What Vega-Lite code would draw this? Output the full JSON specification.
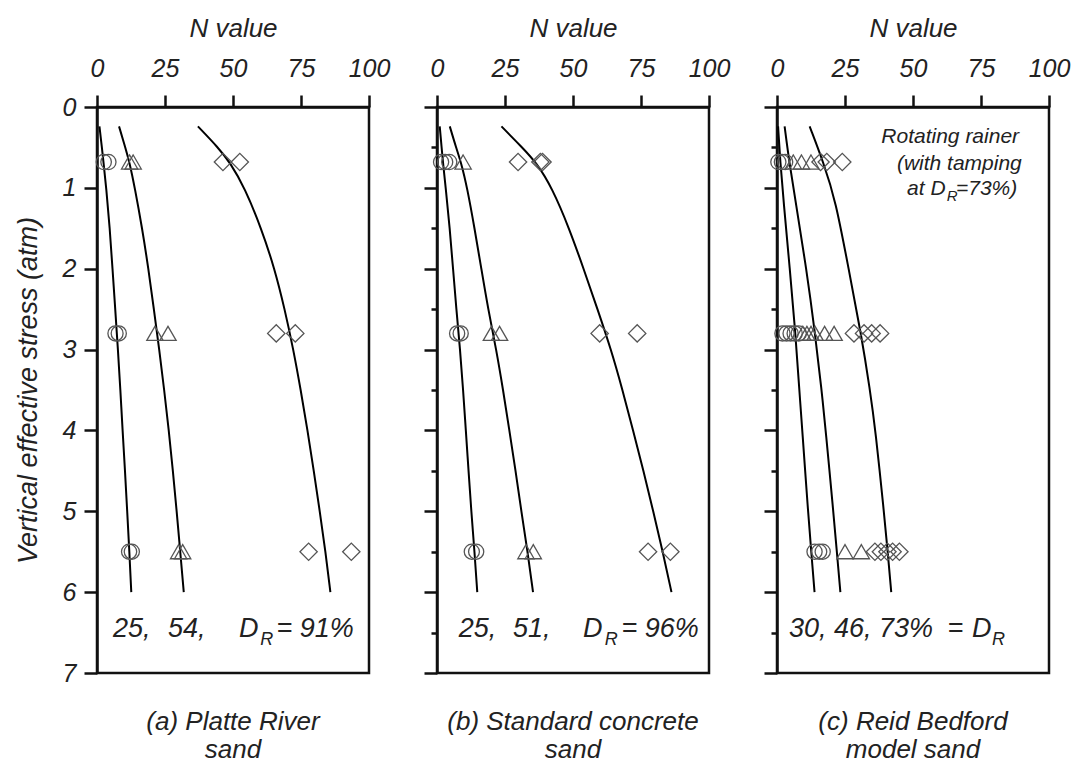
{
  "$schema": "https://vega.github.io/schema/vega-lite/v6.json",
  "background": "white",
  "padding": {"left": 12, "top": 13, "right": 5, "bottom": 0},
  "bounds": "flush",
  "spacing": 68,
  "config": {
    "font": "Liberation Sans",
    "view": {"stroke": "#111", "strokeWidth": 2.5},
    "axis": {
      "domainColor": "#111", "domainWidth": 2.5,
      "tickColor": "#111", "tickWidth": 2.5,
      "labelFont": "Liberation Sans", "labelFontStyle": "italic", "labelFontSize": 25, "labelColor": "#222",
      "labelFlush": false, "labelOverlap": false,
      "titleFont": "Liberation Sans", "titleFontStyle": "italic", "titleFontWeight": "normal", "titleFontSize": 26, "titleColor": "#222",
      "grid": false
    }
  },
  "datasets": {
    "points": [
      {"panel": "a", "sym": "circle", "stress": 0.68, "N": 2.5},
      {"panel": "a", "sym": "circle", "stress": 0.68, "N": 4.2},
      {"panel": "a", "sym": "circle", "stress": 2.8, "N": 6.8},
      {"panel": "a", "sym": "circle", "stress": 2.8, "N": 8.0},
      {"panel": "a", "sym": "circle", "stress": 5.5, "N": 11.8},
      {"panel": "a", "sym": "circle", "stress": 5.5, "N": 12.8},
      {"panel": "a", "sym": "triangle", "stress": 0.68, "N": 12.0},
      {"panel": "a", "sym": "triangle", "stress": 0.68, "N": 13.3},
      {"panel": "a", "sym": "triangle", "stress": 2.8, "N": 21.3},
      {"panel": "a", "sym": "triangle", "stress": 2.8, "N": 26.1},
      {"panel": "a", "sym": "triangle", "stress": 5.5, "N": 30.0},
      {"panel": "a", "sym": "triangle", "stress": 5.5, "N": 31.5},
      {"panel": "a", "sym": "diamond", "stress": 0.68, "N": 46.3},
      {"panel": "a", "sym": "diamond", "stress": 0.68, "N": 52.5},
      {"panel": "a", "sym": "diamond", "stress": 2.8, "N": 65.9},
      {"panel": "a", "sym": "diamond", "stress": 2.8, "N": 72.9},
      {"panel": "a", "sym": "diamond", "stress": 5.5, "N": 77.8},
      {"panel": "a", "sym": "diamond", "stress": 5.5, "N": 93.5},
      {"panel": "b", "sym": "circle", "stress": 0.68, "N": 1.5},
      {"panel": "b", "sym": "circle", "stress": 0.68, "N": 3.0},
      {"panel": "b", "sym": "circle", "stress": 0.68, "N": 4.5},
      {"panel": "b", "sym": "circle", "stress": 2.8, "N": 7.4},
      {"panel": "b", "sym": "circle", "stress": 2.8, "N": 8.7},
      {"panel": "b", "sym": "circle", "stress": 5.5, "N": 12.8},
      {"panel": "b", "sym": "circle", "stress": 5.5, "N": 14.4},
      {"panel": "b", "sym": "triangle", "stress": 0.68, "N": 9.6},
      {"panel": "b", "sym": "triangle", "stress": 2.8, "N": 20.0},
      {"panel": "b", "sym": "triangle", "stress": 2.8, "N": 23.0},
      {"panel": "b", "sym": "triangle", "stress": 5.5, "N": 32.7},
      {"panel": "b", "sym": "triangle", "stress": 5.5, "N": 35.4},
      {"panel": "b", "sym": "diamond", "stress": 0.68, "N": 29.8},
      {"panel": "b", "sym": "diamond", "stress": 0.68, "N": 38.0},
      {"panel": "b", "sym": "diamond", "stress": 0.68, "N": 38.8},
      {"panel": "b", "sym": "diamond", "stress": 2.8, "N": 59.8},
      {"panel": "b", "sym": "diamond", "stress": 2.8, "N": 73.6},
      {"panel": "b", "sym": "diamond", "stress": 5.5, "N": 77.6},
      {"panel": "b", "sym": "diamond", "stress": 5.5, "N": 85.8},
      {"panel": "c", "sym": "circle", "stress": 0.68, "N": 0.5},
      {"panel": "c", "sym": "circle", "stress": 0.68, "N": 1.8},
      {"panel": "c", "sym": "circle", "stress": 0.68, "N": 3.0},
      {"panel": "c", "sym": "circle", "stress": 2.8, "N": 2.0},
      {"panel": "c", "sym": "circle", "stress": 2.8, "N": 3.5},
      {"panel": "c", "sym": "circle", "stress": 2.8, "N": 5.0},
      {"panel": "c", "sym": "circle", "stress": 2.8, "N": 6.5},
      {"panel": "c", "sym": "circle", "stress": 2.8, "N": 8.0},
      {"panel": "c", "sym": "circle", "stress": 5.5, "N": 13.8},
      {"panel": "c", "sym": "circle", "stress": 5.5, "N": 15.5},
      {"panel": "c", "sym": "circle", "stress": 5.5, "N": 16.8},
      {"panel": "c", "sym": "triangle", "stress": 0.68, "N": 6.0},
      {"panel": "c", "sym": "triangle", "stress": 0.68, "N": 9.0},
      {"panel": "c", "sym": "triangle", "stress": 0.68, "N": 12.5},
      {"panel": "c", "sym": "triangle", "stress": 2.8, "N": 9.5},
      {"panel": "c", "sym": "triangle", "stress": 2.8, "N": 11.0},
      {"panel": "c", "sym": "triangle", "stress": 2.8, "N": 12.5},
      {"panel": "c", "sym": "triangle", "stress": 2.8, "N": 14.0},
      {"panel": "c", "sym": "triangle", "stress": 2.8, "N": 17.5},
      {"panel": "c", "sym": "triangle", "stress": 2.8, "N": 21.0},
      {"panel": "c", "sym": "triangle", "stress": 5.5, "N": 25.0},
      {"panel": "c", "sym": "triangle", "stress": 5.5, "N": 31.0},
      {"panel": "c", "sym": "diamond", "stress": 0.68, "N": 16.0},
      {"panel": "c", "sym": "diamond", "stress": 0.68, "N": 18.3},
      {"panel": "c", "sym": "diamond", "stress": 0.68, "N": 24.0},
      {"panel": "c", "sym": "diamond", "stress": 2.8, "N": 28.3},
      {"panel": "c", "sym": "diamond", "stress": 2.8, "N": 32.0},
      {"panel": "c", "sym": "diamond", "stress": 2.8, "N": 34.8},
      {"panel": "c", "sym": "diamond", "stress": 2.8, "N": 37.9},
      {"panel": "c", "sym": "diamond", "stress": 5.5, "N": 36.0},
      {"panel": "c", "sym": "diamond", "stress": 5.5, "N": 38.2},
      {"panel": "c", "sym": "diamond", "stress": 5.5, "N": 40.6},
      {"panel": "c", "sym": "diamond", "stress": 5.5, "N": 42.5},
      {"panel": "c", "sym": "diamond", "stress": 5.5, "N": 45.0}
    ],
    "curves": [
      {"panel": "a", "sym": "circle", "stress": 0.24, "N": 0.9},
      {"panel": "a", "sym": "circle", "stress": 0.5, "N": 1.8},
      {"panel": "a", "sym": "circle", "stress": 0.69, "N": 2.4},
      {"panel": "a", "sym": "circle", "stress": 1.0, "N": 3.4},
      {"panel": "a", "sym": "circle", "stress": 1.5, "N": 4.7},
      {"panel": "a", "sym": "circle", "stress": 2.0, "N": 5.7},
      {"panel": "a", "sym": "circle", "stress": 2.5, "N": 6.7},
      {"panel": "a", "sym": "circle", "stress": 3.0, "N": 7.7},
      {"panel": "a", "sym": "circle", "stress": 3.5, "N": 8.6},
      {"panel": "a", "sym": "circle", "stress": 4.0, "N": 9.4},
      {"panel": "a", "sym": "circle", "stress": 4.5, "N": 10.3},
      {"panel": "a", "sym": "circle", "stress": 5.0, "N": 11.1},
      {"panel": "a", "sym": "circle", "stress": 5.5, "N": 11.9},
      {"panel": "a", "sym": "circle", "stress": 6.0, "N": 12.6},
      {"panel": "a", "sym": "triangle", "stress": 0.24, "N": 8.1},
      {"panel": "a", "sym": "triangle", "stress": 0.5, "N": 10.4},
      {"panel": "a", "sym": "triangle", "stress": 0.69, "N": 12.0},
      {"panel": "a", "sym": "triangle", "stress": 1.0, "N": 13.9},
      {"panel": "a", "sym": "triangle", "stress": 1.5, "N": 16.6},
      {"panel": "a", "sym": "triangle", "stress": 2.0, "N": 18.9},
      {"panel": "a", "sym": "triangle", "stress": 2.5, "N": 20.9},
      {"panel": "a", "sym": "triangle", "stress": 3.0, "N": 22.9},
      {"panel": "a", "sym": "triangle", "stress": 3.5, "N": 24.7},
      {"panel": "a", "sym": "triangle", "stress": 4.0, "N": 26.4},
      {"panel": "a", "sym": "triangle", "stress": 4.5, "N": 27.9},
      {"panel": "a", "sym": "triangle", "stress": 5.0, "N": 29.3},
      {"panel": "a", "sym": "triangle", "stress": 5.5, "N": 30.6},
      {"panel": "a", "sym": "triangle", "stress": 6.0, "N": 31.9},
      {"panel": "a", "sym": "diamond", "stress": 0.24, "N": 37.1},
      {"panel": "a", "sym": "diamond", "stress": 0.5, "N": 44.5},
      {"panel": "a", "sym": "diamond", "stress": 0.69, "N": 49.0},
      {"panel": "a", "sym": "diamond", "stress": 1.0, "N": 54.3},
      {"panel": "a", "sym": "diamond", "stress": 1.5, "N": 60.4},
      {"panel": "a", "sym": "diamond", "stress": 2.0, "N": 65.3},
      {"panel": "a", "sym": "diamond", "stress": 2.5, "N": 69.0},
      {"panel": "a", "sym": "diamond", "stress": 3.0, "N": 72.2},
      {"panel": "a", "sym": "diamond", "stress": 3.5, "N": 74.9},
      {"panel": "a", "sym": "diamond", "stress": 4.0, "N": 77.4},
      {"panel": "a", "sym": "diamond", "stress": 4.5, "N": 79.7},
      {"panel": "a", "sym": "diamond", "stress": 5.0, "N": 81.9},
      {"panel": "a", "sym": "diamond", "stress": 5.5, "N": 84.0},
      {"panel": "a", "sym": "diamond", "stress": 6.0, "N": 85.8},
      {"panel": "b", "sym": "circle", "stress": 0.24, "N": 1.0},
      {"panel": "b", "sym": "circle", "stress": 0.5, "N": 1.7},
      {"panel": "b", "sym": "circle", "stress": 0.69, "N": 2.2},
      {"panel": "b", "sym": "circle", "stress": 1.0, "N": 3.2},
      {"panel": "b", "sym": "circle", "stress": 1.5, "N": 4.7},
      {"panel": "b", "sym": "circle", "stress": 2.0, "N": 5.9},
      {"panel": "b", "sym": "circle", "stress": 2.5, "N": 7.1},
      {"panel": "b", "sym": "circle", "stress": 3.0, "N": 8.5},
      {"panel": "b", "sym": "circle", "stress": 3.5, "N": 9.6},
      {"panel": "b", "sym": "circle", "stress": 4.0, "N": 10.6},
      {"panel": "b", "sym": "circle", "stress": 4.5, "N": 11.6},
      {"panel": "b", "sym": "circle", "stress": 5.0, "N": 12.6},
      {"panel": "b", "sym": "circle", "stress": 5.5, "N": 13.8},
      {"panel": "b", "sym": "circle", "stress": 6.0, "N": 14.8},
      {"panel": "b", "sym": "triangle", "stress": 0.24, "N": 4.7},
      {"panel": "b", "sym": "triangle", "stress": 0.5, "N": 7.0},
      {"panel": "b", "sym": "triangle", "stress": 0.69, "N": 8.9},
      {"panel": "b", "sym": "triangle", "stress": 1.0, "N": 11.1},
      {"panel": "b", "sym": "triangle", "stress": 1.5, "N": 13.8},
      {"panel": "b", "sym": "triangle", "stress": 2.0, "N": 16.3},
      {"panel": "b", "sym": "triangle", "stress": 2.5, "N": 18.8},
      {"panel": "b", "sym": "triangle", "stress": 3.0, "N": 21.8},
      {"panel": "b", "sym": "triangle", "stress": 3.5, "N": 24.3},
      {"panel": "b", "sym": "triangle", "stress": 4.0, "N": 26.6},
      {"panel": "b", "sym": "triangle", "stress": 4.5, "N": 28.9},
      {"panel": "b", "sym": "triangle", "stress": 5.0, "N": 31.0},
      {"panel": "b", "sym": "triangle", "stress": 5.5, "N": 33.3},
      {"panel": "b", "sym": "triangle", "stress": 6.0, "N": 35.3},
      {"panel": "b", "sym": "diamond", "stress": 0.24, "N": 23.7},
      {"panel": "b", "sym": "diamond", "stress": 0.5, "N": 31.3},
      {"panel": "b", "sym": "diamond", "stress": 0.69, "N": 36.6},
      {"panel": "b", "sym": "diamond", "stress": 1.0, "N": 42.3},
      {"panel": "b", "sym": "diamond", "stress": 1.5, "N": 48.6},
      {"panel": "b", "sym": "diamond", "stress": 2.0, "N": 53.9},
      {"panel": "b", "sym": "diamond", "stress": 2.5, "N": 59.0},
      {"panel": "b", "sym": "diamond", "stress": 3.0, "N": 64.0},
      {"panel": "b", "sym": "diamond", "stress": 3.5, "N": 68.2},
      {"panel": "b", "sym": "diamond", "stress": 4.0, "N": 72.1},
      {"panel": "b", "sym": "diamond", "stress": 4.5, "N": 75.9},
      {"panel": "b", "sym": "diamond", "stress": 5.0, "N": 79.5},
      {"panel": "b", "sym": "diamond", "stress": 5.5, "N": 83.0},
      {"panel": "b", "sym": "diamond", "stress": 6.0, "N": 86.2},
      {"panel": "c", "sym": "circle", "stress": 0.24, "N": 0.4},
      {"panel": "c", "sym": "circle", "stress": 0.68, "N": 1.2},
      {"panel": "c", "sym": "circle", "stress": 1.16, "N": 2.4},
      {"panel": "c", "sym": "circle", "stress": 2.0, "N": 4.7},
      {"panel": "c", "sym": "circle", "stress": 2.8, "N": 6.8},
      {"panel": "c", "sym": "circle", "stress": 3.5, "N": 8.2},
      {"panel": "c", "sym": "circle", "stress": 4.0, "N": 9.3},
      {"panel": "c", "sym": "circle", "stress": 5.0, "N": 11.4},
      {"panel": "c", "sym": "circle", "stress": 5.5, "N": 12.6},
      {"panel": "c", "sym": "circle", "stress": 6.0, "N": 13.8},
      {"panel": "c", "sym": "triangle", "stress": 0.24, "N": 2.8},
      {"panel": "c", "sym": "triangle", "stress": 0.68, "N": 4.5},
      {"panel": "c", "sym": "triangle", "stress": 1.16, "N": 6.8},
      {"panel": "c", "sym": "triangle", "stress": 2.0, "N": 10.8},
      {"panel": "c", "sym": "triangle", "stress": 2.8, "N": 14.0},
      {"panel": "c", "sym": "triangle", "stress": 3.5, "N": 16.4},
      {"panel": "c", "sym": "triangle", "stress": 4.0, "N": 17.9},
      {"panel": "c", "sym": "triangle", "stress": 5.0, "N": 20.7},
      {"panel": "c", "sym": "triangle", "stress": 5.5, "N": 22.0},
      {"panel": "c", "sym": "triangle", "stress": 6.0, "N": 23.3},
      {"panel": "c", "sym": "diamond", "stress": 0.24, "N": 12.0},
      {"panel": "c", "sym": "diamond", "stress": 0.68, "N": 17.0},
      {"panel": "c", "sym": "diamond", "stress": 1.16, "N": 21.6},
      {"panel": "c", "sym": "diamond", "stress": 2.0, "N": 26.3},
      {"panel": "c", "sym": "diamond", "stress": 2.8, "N": 30.9},
      {"panel": "c", "sym": "diamond", "stress": 3.5, "N": 34.2},
      {"panel": "c", "sym": "diamond", "stress": 4.0, "N": 36.2},
      {"panel": "c", "sym": "diamond", "stress": 5.0, "N": 39.3},
      {"panel": "c", "sym": "diamond", "stress": 5.5, "N": 40.7},
      {"panel": "c", "sym": "diamond", "stress": 6.0, "N": 42.0}
    ],
    "notes": [
      {"panel": "a", "kind": "main", "N": 5.9, "stress": 6.46, "text": "25,"},
      {"panel": "a", "kind": "main", "N": 26.1, "stress": 6.46, "text": "54,"},
      {"panel": "a", "kind": "main", "N": 52.2, "stress": 6.46, "text": "D"},
      {"panel": "a", "kind": "sub", "N": 60.0, "stress": 6.59, "text": "R"},
      {"panel": "a", "kind": "main", "N": 66.0, "stress": 6.46, "text": "= 91%"},
      {"panel": "b", "kind": "main", "N": 8.0, "stress": 6.46, "text": "25,"},
      {"panel": "b", "kind": "main", "N": 27.9, "stress": 6.46, "text": "51,"},
      {"panel": "b", "kind": "main", "N": 53.7, "stress": 6.46, "text": "D"},
      {"panel": "b", "kind": "sub", "N": 61.7, "stress": 6.59, "text": "R"},
      {"panel": "b", "kind": "main", "N": 67.8, "stress": 6.46, "text": "= 96%"},
      {"panel": "c", "kind": "main", "N": 4.4, "stress": 6.46, "text": "30, 46, 73%"},
      {"panel": "c", "kind": "main", "N": 62.7, "stress": 6.46, "text": "="},
      {"panel": "c", "kind": "main", "N": 71.7, "stress": 6.46, "text": "D"},
      {"panel": "c", "kind": "sub", "N": 79.0, "stress": 6.59, "text": "R"},
      {"panel": "c", "kind": "noteR", "N": 89.0, "stress": 0.37, "text": "Rotating rainer"},
      {"panel": "c", "kind": "noteR", "N": 90.0, "stress": 0.71, "text": "(with tamping"},
      {"panel": "c", "kind": "noteR", "N": 62.0, "stress": 1.02, "text": "at D"},
      {"panel": "c", "kind": "noteSub", "N": 62.4, "stress": 1.1, "text": "R"},
      {"panel": "c", "kind": "noteL", "N": 65.8, "stress": 1.02, "text": "=73%)"}
    ]
  },
  "hconcat": [
    {
      "width": 272, "height": 566,
      "title": {"text": ["(a) Platte River", "sand"], "orient": "bottom", "anchor": "middle", "frame": "group", "offset": 23, "fontSize": 26, "fontStyle": "italic", "fontWeight": "normal", "color": "#222", "lineHeight": 28},
      "encoding": {
        "x": {"field": "N", "type": "quantitative", "scale": {"domain": [0, 100], "nice": false},
              "axis": {"orient": "top", "title": "N value", "values": [0, 25, 50, 75, 100], "tickSize": 12, "labelPadding": 14, "titlePadding": 15}},
        "y": {"field": "stress", "type": "quantitative", "scale": {"domain": [0, 7], "reverse": true, "nice": false},
              "axis": {"orient": "left", "title": "Vertical effective stress (atm)", "titleFontSize": 27, "titlePadding": 20, "format": "d",
                       "values": [0, 0.5, 1, 1.5, 2, 2.5, 3, 3.5, 4, 4.5, 5, 5.5, 6, 6.5, 7],
                       "tickSize": {"condition": {"test": "datum.value % 1 === 0", "value": 13}, "value": 6},
                       "labelExpr": "datum.value % 1 === 0 ? datum.label : ''", "labelPadding": 8}}
      },
      "layer": [
        {"data": {"name": "curves"}, "transform": [{"filter": "datum.panel === 'a'"}],
         "mark": {"type": "line", "color": "#000", "strokeWidth": 2, "interpolate": "basis"},
         "encoding": {"detail": {"field": "sym"}, "order": {"field": "stress", "type": "quantitative"}}},
        {"data": {"name": "points"}, "transform": [{"filter": "datum.panel === 'a'"}],
         "mark": {"type": "point", "filled": false, "stroke": "#555", "strokeWidth": 1.3, "opacity": 1},
         "encoding": {"shape": {"field": "sym", "type": "nominal", "scale": {"domain": ["circle", "triangle", "diamond"], "range": ["circle", "triangle-up", "diamond"]}, "legend": null},
                      "size": {"field": "sym", "type": "nominal", "scale": {"domain": ["circle", "triangle", "diamond"], "range": [230, 300, 240]}, "legend": null}}},
        {"data": {"name": "notes"}, "transform": [{"filter": "datum.panel === 'a' && datum.kind === 'main'"}],
         "mark": {"type": "text", "fontSize": 27, "fontStyle": "italic", "align": "left", "baseline": "middle", "color": "#222"},
         "encoding": {"text": {"field": "text"}}},
        {"data": {"name": "notes"}, "transform": [{"filter": "datum.panel === 'a' && datum.kind === 'sub'"}],
         "mark": {"type": "text", "fontSize": 18, "fontStyle": "italic", "align": "left", "baseline": "middle", "color": "#222"},
         "encoding": {"text": {"field": "text"}}}
      ]
    },
    {
      "width": 272, "height": 566,
      "title": {"text": ["(b) Standard concrete", "sand"], "orient": "bottom", "anchor": "middle", "frame": "group", "offset": 35, "fontSize": 26, "fontStyle": "italic", "fontWeight": "normal", "color": "#222", "lineHeight": 28},
      "encoding": {
        "x": {"field": "N", "type": "quantitative", "scale": {"domain": [0, 100], "nice": false},
              "axis": {"orient": "top", "title": "N value", "values": [0, 25, 50, 75, 100], "tickSize": 12, "labelPadding": 14, "titlePadding": 15}},
        "y": {"field": "stress", "type": "quantitative", "scale": {"domain": [0, 7], "reverse": true, "nice": false},
              "axis": {"orient": "left", "title": null, "labels": false,
                       "values": [0, 0.5, 1, 1.5, 2, 2.5, 3, 3.5, 4, 4.5, 5, 5.5, 6, 6.5, 7],
                       "tickSize": {"condition": {"test": "datum.value % 1 === 0", "value": 13}, "value": 6}}}
      },
      "layer": [
        {"data": {"name": "curves"}, "transform": [{"filter": "datum.panel === 'b'"}],
         "mark": {"type": "line", "color": "#000", "strokeWidth": 2, "interpolate": "basis"},
         "encoding": {"detail": {"field": "sym"}, "order": {"field": "stress", "type": "quantitative"}}},
        {"data": {"name": "points"}, "transform": [{"filter": "datum.panel === 'b'"}],
         "mark": {"type": "point", "filled": false, "stroke": "#555", "strokeWidth": 1.3, "opacity": 1},
         "encoding": {"shape": {"field": "sym", "type": "nominal", "scale": {"domain": ["circle", "triangle", "diamond"], "range": ["circle", "triangle-up", "diamond"]}, "legend": null},
                      "size": {"field": "sym", "type": "nominal", "scale": {"domain": ["circle", "triangle", "diamond"], "range": [230, 300, 240]}, "legend": null}}},
        {"data": {"name": "notes"}, "transform": [{"filter": "datum.panel === 'b' && datum.kind === 'main'"}],
         "mark": {"type": "text", "fontSize": 27, "fontStyle": "italic", "align": "left", "baseline": "middle", "color": "#222"},
         "encoding": {"text": {"field": "text"}}},
        {"data": {"name": "notes"}, "transform": [{"filter": "datum.panel === 'b' && datum.kind === 'sub'"}],
         "mark": {"type": "text", "fontSize": 18, "fontStyle": "italic", "align": "left", "baseline": "middle", "color": "#222"},
         "encoding": {"text": {"field": "text"}}}
      ]
    },
    {
      "width": 272, "height": 566,
      "title": {"text": ["(c) Reid Bedford", "model sand"], "orient": "bottom", "anchor": "middle", "frame": "group", "offset": 35, "fontSize": 26, "fontStyle": "italic", "fontWeight": "normal", "color": "#222", "lineHeight": 28},
      "encoding": {
        "x": {"field": "N", "type": "quantitative", "scale": {"domain": [0, 100], "nice": false},
              "axis": {"orient": "top", "title": "N value", "values": [0, 25, 50, 75, 100], "tickSize": 12, "labelPadding": 14, "titlePadding": 15}},
        "y": {"field": "stress", "type": "quantitative", "scale": {"domain": [0, 7], "reverse": true, "nice": false},
              "axis": {"orient": "left", "title": null, "labels": false,
                       "values": [0, 0.5, 1, 1.5, 2, 2.5, 3, 3.5, 4, 4.5, 5, 5.5, 6, 6.5, 7],
                       "tickSize": {"condition": {"test": "datum.value % 1 === 0", "value": 13}, "value": 6}}}
      },
      "layer": [
        {"data": {"name": "curves"}, "transform": [{"filter": "datum.panel === 'c'"}],
         "mark": {"type": "line", "color": "#000", "strokeWidth": 2, "interpolate": "basis"},
         "encoding": {"detail": {"field": "sym"}, "order": {"field": "stress", "type": "quantitative"}}},
        {"data": {"name": "points"}, "transform": [{"filter": "datum.panel === 'c'"}],
         "mark": {"type": "point", "filled": false, "stroke": "#555", "strokeWidth": 1.3, "opacity": 1},
         "encoding": {"shape": {"field": "sym", "type": "nominal", "scale": {"domain": ["circle", "triangle", "diamond"], "range": ["circle", "triangle-up", "diamond"]}, "legend": null},
                      "size": {"field": "sym", "type": "nominal", "scale": {"domain": ["circle", "triangle", "diamond"], "range": [230, 300, 240]}, "legend": null}}},
        {"data": {"name": "notes"}, "transform": [{"filter": "datum.panel === 'c' && datum.kind === 'main'"}],
         "mark": {"type": "text", "fontSize": 27, "fontStyle": "italic", "align": "left", "baseline": "middle", "color": "#222"},
         "encoding": {"text": {"field": "text"}}},
        {"data": {"name": "notes"}, "transform": [{"filter": "datum.panel === 'c' && datum.kind === 'sub'"}],
         "mark": {"type": "text", "fontSize": 18, "fontStyle": "italic", "align": "left", "baseline": "middle", "color": "#222"},
         "encoding": {"text": {"field": "text"}}},
        {"data": {"name": "notes"}, "transform": [{"filter": "datum.panel === 'c' && datum.kind === 'noteR'"}],
         "mark": {"type": "text", "fontSize": 21, "fontStyle": "italic", "align": "right", "baseline": "middle", "color": "#222"},
         "encoding": {"text": {"field": "text"}}},
        {"data": {"name": "notes"}, "transform": [{"filter": "datum.panel === 'c' && datum.kind === 'noteL'"}],
         "mark": {"type": "text", "fontSize": 21, "fontStyle": "italic", "align": "left", "baseline": "middle", "color": "#222"},
         "encoding": {"text": {"field": "text"}}},
        {"data": {"name": "notes"}, "transform": [{"filter": "datum.panel === 'c' && datum.kind === 'noteSub'"}],
         "mark": {"type": "text", "fontSize": 15, "fontStyle": "italic", "align": "left", "baseline": "middle", "color": "#222"},
         "encoding": {"text": {"field": "text"}}}
      ]
    }
  ]
}
